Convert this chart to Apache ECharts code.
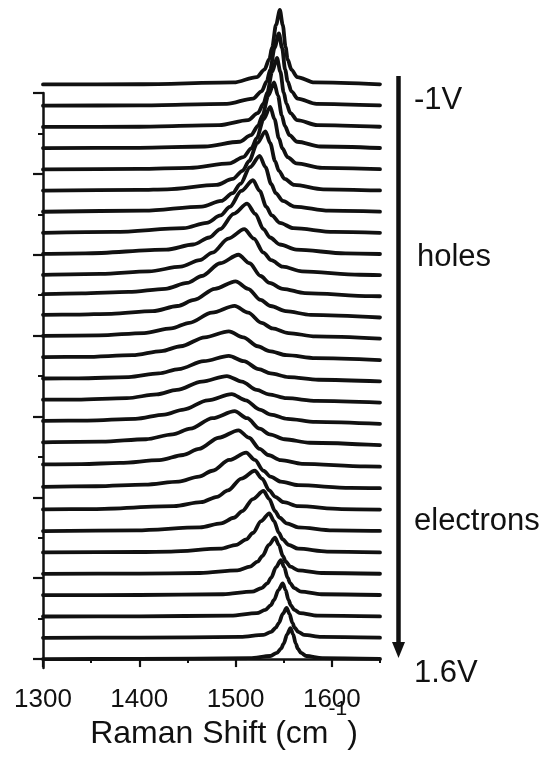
<!DOCTYPE html>
<html>
<head>
<meta charset="utf-8">
<script src="https://cdn.jsdelivr.net/npm/echarts@6/dist/echarts.min.js"></script>
<style>
  html, body { margin: 0; padding: 0; background: #fff; }
  #chart { width: 546px; height: 757px; }
</style>
</head>
<body>
<div id="chart"></div>
<script>
// G-band spectra, [Raman shift (cm-1), intensity (a.u.)], from -1 V (top) to 1.6 V (bottom)
const spectrum01 = [[1300,0.1],[1400,0.2],[1498,1.9],[1522,7],[1530,14],[1535,23.7],[1538,35],[1542,56],[1546,70],[1549,56],[1552,35],[1554,23.7],[1558,14],[1564,7],[1582,1.9],[1650,0.2]];
const spectrum02 = [[1300,0.1],[1400,0.3],[1491,1.8],[1518,6.8],[1527,13.6],[1532.4,23],[1536,34],[1540.5,54.4],[1545,68],[1548.3,54.4],[1551.5,34],[1554.1,23],[1558,13.6],[1564.5,6.8],[1584,1.8],[1650,0.3]];
const spectrum03 = [[1300,0.1],[1400,0.3],[1483,1.8],[1513,6.5],[1523,13],[1529,22],[1533,32.5],[1538,52],[1543,65],[1546.5,52],[1550,32.5],[1552.8,22],[1557,13],[1564,6.5],[1585,1.8],[1650,0.3]];
const spectrum04 = [[1300,0.2],[1400,0.5],[1468,1.7],[1504,6.2],[1516,12.4],[1523.2,21],[1528,31],[1534,49.6],[1540,62],[1544,49.6],[1548,31],[1551.2,21],[1556,12.4],[1564,6.2],[1588,1.7],[1650,0.3]];
const spectrum05 = [[1300,0.2],[1400,0.6],[1452,1.6],[1494,5.9],[1508,11.8],[1516.4,19.9],[1522,29.5],[1529,47.2],[1536,59],[1540.5,47.2],[1545,29.5],[1548.6,19.9],[1554,11.8],[1563,5.9],[1590,1.6],[1650,0.4]];
const spectrum06 = [[1300,0.3],[1400,0.9],[1429,1.5],[1480,5.6],[1497,11.2],[1507.2,18.9],[1514,28],[1522.5,44.8],[1531,56],[1536,44.8],[1541,28],[1545,18.9],[1551,11.2],[1561,5.6],[1591,1.5],[1650,0.4]];
const spectrum07 = [[1300,0.4],[1405,1.4],[1465,5.3],[1485,10.6],[1497,17.9],[1505,26.5],[1515,42.4],[1525,53],[1531,42.4],[1537,26.5],[1541.8,17.9],[1549,10.6],[1561,5.3],[1597,1.4],[1650,0.5]];
const spectrum08 = [[1300,0.6],[1374,1.4],[1446,5],[1470,10],[1484.4,16.9],[1494,25],[1506,40],[1518,50],[1525,40],[1532,25],[1537.6,16.9],[1546,10],[1560,5],[1602,1.4],[1650,0.6]];
const spectrum09 = [[1300,0.8],[1344,1.3],[1428,4.8],[1456,9.6],[1472.8,16.2],[1484,24],[1498,38.4],[1512,48],[1520.5,38.4],[1529,24],[1535.8,16.2],[1546,9.6],[1563,4.8],[1614,1.3],[1650,0.7]];
const spectrum10 = [[1300,1.1],[1360,2.1],[1410,4.4],[1443,8.8],[1462.8,14.9],[1476,22],[1492.5,35.2],[1509,44],[1519,35.2],[1529,22],[1537,14.9],[1549,8.8],[1569,4.4],[1629,1.2],[1650,0.9]];
const spectrum11 = [[1300,2.9],[1340,3.6],[1389,5],[1427,8],[1449.8,13.5],[1465,20],[1484,32],[1503,40],[1514.5,32],[1526,20],[1535.2,13.5],[1549,8],[1572,4],[1641,1.1],[1650,1]];
const spectrum12 = [[1300,3.5],[1335,3.7],[1371,4.5],[1414,7],[1439.8,11.8],[1457,17.5],[1478.5,28],[1500,35],[1513,28],[1526,17.5],[1536.4,11.8],[1552,7],[1578,3.5],[1650,1]];
const spectrum13 = [[1300,3.7],[1358,4.2],[1405,6.4],[1433.2,10.8],[1452,16],[1475.5,25.6],[1499,32],[1513,25.6],[1527,16],[1538.2,10.8],[1555,6.4],[1583,3.2],[1650,1.1]];
const spectrum14 = [[1300,3.8],[1343,4],[1393,5.6],[1423,9.5],[1443,14],[1468,22.4],[1493,28],[1508,22.4],[1523,14],[1535,9.5],[1553,5.6],[1583,2.8],[1650,1]];
const spectrum15 = [[1300,3.7],[1337,3.8],[1389,5],[1420.2,8.5],[1441,12.5],[1467,20],[1493,25],[1508.5,20],[1524,12.5],[1536.4,8.5],[1555,5],[1586,2.5],[1650,0.9]];
const spectrum16 = [[1300,3.8],[1335,3.9],[1387,5.2],[1418.2,8.8],[1439,13],[1465,20.8],[1491,26],[1506.5,20.8],[1522,13],[1534.4,8.8],[1553,5.2],[1584,2.6],[1650,1]];
const spectrum17 = [[1300,3.8],[1346,4.1],[1396,5.8],[1426,9.8],[1446,14.5],[1471,23.2],[1496,29],[1510.5,23.2],[1525,14.5],[1536.6,9.8],[1554,5.8],[1583,2.9],[1650,1]];
const spectrum18 = [[1300,3.7],[1361,4.3],[1407,6.6],[1434.6,11.2],[1453,16.5],[1476,26.4],[1499,33],[1512,26.4],[1525,16.5],[1535.4,11.2],[1551,6.6],[1577,3.3],[1650,1]];
const spectrum19 = [[1300,2.9],[1340,3.3],[1380,4.3],[1421,7],[1445.6,11.8],[1462,17.5],[1482.5,28],[1503,35],[1514,28],[1525,17.5],[1533.8,11.8],[1547,7],[1569,3.5],[1635,1],[1650,0.8]];
const spectrum20 = [[1300,1.9],[1355,2.4],[1406,4],[1441,6.8],[1462,11.5],[1476,17],[1493.5,27.2],[1511,34],[1520,27.2],[1529,17],[1536.2,11.5],[1547,6.8],[1565,3.4],[1619,0.9],[1650,0.6]];
const spectrum21 = [[1300,0.6],[1352,1],[1436,3.7],[1464,7.4],[1480.8,12.5],[1492,18.5],[1506,29.6],[1520,37],[1527.5,29.6],[1535,18.5],[1541,12.5],[1550,7.4],[1565,3.7],[1610,1],[1650,0.5]];
const spectrum22 = [[1300,0.3],[1397,1],[1463,3.8],[1485,7.6],[1498.2,12.8],[1507,19],[1518,30.4],[1529,38],[1535,30.4],[1541,19],[1545.8,12.8],[1553,7.6],[1565,3.8],[1601,1],[1650,0.4]];
const spectrum23 = [[1300,0.2],[1400,0.6],[1433,1],[1484,3.7],[1501,7.4],[1511.2,12.5],[1518,18.5],[1526.5,29.6],[1535,37],[1540,29.6],[1545,18.5],[1549,12.5],[1555,7.4],[1565,3.7],[1595,1],[1650,0.3]];
const spectrum24 = [[1300,0.1],[1400,0.3],[1463,0.9],[1502,3.4],[1515,6.8],[1522.8,11.5],[1528,17],[1534.5,27.2],[1541,34],[1545,27.2],[1549,17],[1552.2,11.5],[1557,6.8],[1565,3.4],[1589,0.9],[1650,0.2]];
const spectrum25 = [[1300,0.1],[1400,0.2],[1487,0.9],[1517,3.3],[1527,6.6],[1533,11.2],[1537,16.5],[1542,26.4],[1547,33],[1550.5,26.4],[1554,16.5],[1556.8,11.2],[1561,6.6],[1568,3.3],[1589,0.9],[1650,0.2]];
const spectrum26 = [[1300,0],[1400,0.1],[1495,0.8],[1522,3.1],[1531,6.2],[1536.4,10.5],[1540,15.5],[1544.5,24.8],[1549,31],[1552,24.8],[1555,15.5],[1557.4,10.5],[1561,6.2],[1567,3.1],[1585,0.8],[1650,0.1]];
const spectrum27 = [[1300,0],[1400,0.1],[1505,0.8],[1529,2.8],[1537,5.6],[1541.8,9.5],[1545,14],[1549,22.4],[1553,28],[1556,22.4],[1559,14],[1561.4,9.5],[1565,5.6],[1571,2.8],[1589,0.8],[1650,0.1]];
const spectrum28 = [[1300,0],[1400,0.1],[1515,0.8],[1536,2.9],[1543,5.8],[1547.2,9.8],[1550,14.5],[1553.5,23.2],[1557,29],[1559.8,23.2],[1562.5,14.5],[1564.7,9.8],[1568,5.8],[1573.5,2.9],[1590,0.8],[1650,0.1]];

const spectra = [spectrum01, spectrum02, spectrum03, spectrum04, spectrum05, spectrum06, spectrum07,
  spectrum08, spectrum09, spectrum10, spectrum11, spectrum12, spectrum13, spectrum14, spectrum15,
  spectrum16, spectrum17, spectrum18, spectrum19, spectrum20, spectrum21, spectrum22, spectrum23,
  spectrum24, spectrum25, spectrum26, spectrum27, spectrum28];

// axis ticks
const xMajorTicks = [1300, 1400, 1500, 1600];
const xMinorTicks = [1350, 1450, 1550, 1650];
const yMajorTicks = [0, 76, 152, 228, 304, 380, 456, 532];
const yMinorTicks = [38, 114, 190, 266, 342, 418, 494];
const sideLabels = ['-1V', 'holes', 'electrons', '1.6V'];

const traceOffset = 20;   // vertical spacing between consecutive spectra (a.u.)
const FONT = '"Liberation Sans", Arial, Helvetica, sans-serif';
const INK = '#111';

const chart = echarts.init(document.getElementById('chart'), null, { renderer: 'canvas' });

const n = spectra.length;
const series = spectra.map((spec, i) => ({
  type: 'line',
  xAxisIndex: 0,
  yAxisIndex: 0,
  data: spec.map(p => [p[0], p[1] + (n - 1 - i) * traceOffset]),
  showSymbol: false,
  smooth: 0.3,
  smoothMonotone: 'x',
  clip: false,
  silent: true,
  lineStyle: { color: INK, width: 3.8, cap: 'round', join: 'round' }
}));

const gridBox = { left: 43, right: 166, top: 93, bottom: 89 };
const sideFont = '31px ' + FONT;

chart.setOption({
  animation: false,
  backgroundColor: '#fff',
  grid: Object.assign({ containLabel: false, outerBoundsMode: 'none' }, gridBox),
  xAxis: [
    {
      type: 'value', min: 1300, max: 1650, position: 'bottom',
      axisLine: { show: true, lineStyle: { color: INK, width: 2.5 } },
      axisTick: { show: true, customValues: xMajorTicks, length: 8, lineStyle: { color: INK, width: 2.2 } },
      axisLabel: {
        show: true, customValues: xMajorTicks, margin: 19, fontSize: 26, color: INK, fontFamily: FONT,
        formatter: v => String(v)
      },
      splitLine: { show: false },
      name: '{t|Raman Shift (cm}{s|-1}{t|)}',
      nameLocation: 'middle',
      nameGap: 47,
      nameMoveOverlap: false,
      nameTextStyle: {
        verticalAlign: 'top',
        padding: [0, 0, 0, 25],
        rich: {
          t: { fontSize: 32, fontFamily: FONT, color: INK, lineHeight: 35, verticalAlign: 'bottom' },
          s: { fontSize: 21, fontFamily: FONT, color: INK, lineHeight: 22, verticalAlign: 'bottom', padding: [0, 0, 30, 0] }
        }
      }
    },
    {
      type: 'value', min: 1300, max: 1650, position: 'bottom',
      axisLine: { show: false },
      axisTick: { show: true, customValues: xMinorTicks, length: 4, lineStyle: { color: INK, width: 2 } },
      axisLabel: { show: false },
      splitLine: { show: false }
    }
  ],
  yAxis: [
    {
      type: 'value', min: -8.4, max: 532, position: 'left',
      axisLine: { show: true, lineStyle: { color: INK, width: 2.5 } },
      axisTick: { show: true, customValues: yMajorTicks, length: 10, lineStyle: { color: INK, width: 2.2 } },
      axisLabel: { show: false },
      splitLine: { show: false }
    },
    {
      type: 'value', min: -8.4, max: 532, position: 'left',
      axisLine: { show: false },
      axisTick: { show: true, customValues: yMinorTicks, length: 5, lineStyle: { color: INK, width: 2 } },
      axisLabel: { show: false },
      splitLine: { show: false }
    }
  ],
  series: series,
  graphic: [
    // gate sweep arrow
    { type: 'line', shape: { x1: 398.5, y1: 76, x2: 398.5, y2: 645 }, style: { stroke: INK, lineWidth: 4.5 } },
    { type: 'polygon', shape: { points: [[392, 642], [405, 642], [398.5, 658]] }, style: { fill: INK } },
    { type: 'text', x: 414, y: 100, style: { text: sideLabels[0], font: sideFont, fill: INK, verticalAlign: 'middle' } },
    { type: 'text', x: 417, y: 257, style: { text: sideLabels[1], font: sideFont, fill: INK, verticalAlign: 'middle' } },
    { type: 'text', x: 414, y: 521, style: { text: sideLabels[2], font: sideFont, fill: INK, verticalAlign: 'middle' } },
    { type: 'text', x: 414, y: 673, style: { text: sideLabels[3], font: sideFont, fill: INK, verticalAlign: 'middle' } }
  ]
});
</script>
</body>
</html>
